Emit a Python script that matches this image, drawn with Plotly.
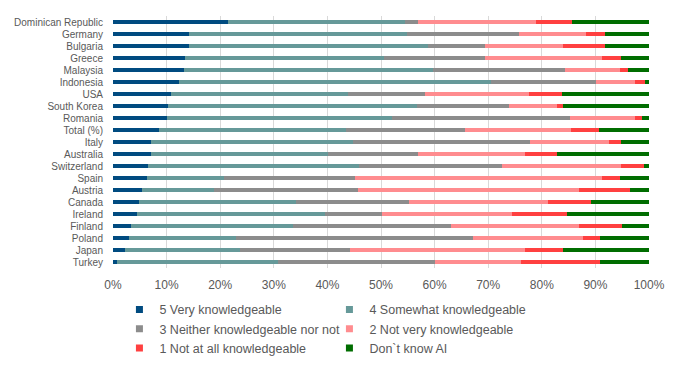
import plotly.graph_objects as go

categories = ["Dominican Republic", "Germany", "Bulgaria", "Greece", "Malaysia", "Indonesia",
              "USA", "South Korea", "Romania", "Total (%)", "Italy", "Australia", "Switzerland",
              "Spain", "Austria", "Canada", "Ireland", "Finland", "Poland", "Japan", "Turkey"]

very = [21.5, 14.1, 14.1, 13.4, 13.3, 12.3, 10.8, 10.3, 10.1, 8.6, 7.1, 7.1, 6.5, 6.3, 5.4, 4.9, 4.5, 3.4, 3.0, 2.2, 0.7]
somewhat = [33.0, 40.7, 44.7, 37.1, 46.4, 58.3, 33.1, 46.5, 41.9, 34.9, 37.7, 33.1, 39.4, 14.5, 13.5, 29.3, 35.1, 30.1, 20.0, 21.5, 30.0]
neither = [2.4, 21.0, 10.6, 18.9, 24.7, 19.6, 14.3, 17.1, 33.3, 22.2, 33.0, 16.7, 26.7, 24.4, 26.8, 21.1, 10.6, 29.6, 44.2, 20.5, 29.4]
not_very = [22.1, 12.5, 14.6, 21.9, 10.1, 7.1, 19.5, 9.0, 12.1, 19.8, 14.8, 20.0, 22.2, 46.1, 41.3, 25.9, 24.3, 23.9, 20.5, 32.7, 16.1]
not_at_all = [6.7, 3.5, 7.8, 3.5, 1.6, 2.0, 6.1, 1.1, 1.2, 5.2, 2.2, 6.0, 4.3, 3.3, 9.5, 8.0, 10.2, 8.0, 3.2, 7.1, 14.7]
dont_know = [14.3, 8.2, 8.2, 5.2, 3.9, 0.7, 16.2, 16.0, 1.4, 9.3, 5.2, 17.1, 0.9, 5.4, 3.5, 10.8, 15.3, 5.0, 9.1, 16.0, 9.1]

series = [
    ("5 Very knowledgeable", very, "#004B80"),
    ("4 Somewhat knowledgeable", somewhat, "#669999"),
    ("3 Neither knowledgeable nor not", neither, "#8C8C8C"),
    ("2 Not very knowledgeable", not_very, "#FF8C8F"),
    ("1 Not at all knowledgeable", not_at_all, "#FF4040"),
    ("Don`t know AI", dont_know, "#006D00"),
]

fig = go.Figure()
for name, vals, color in series:
    fig.add_trace(go.Bar(
        y=categories, x=[v / 100 for v in vals], name=name, orientation="h",
        marker=dict(color=color, line=dict(width=0)),
        legendgroup=name, showlegend=False,
    ))
# legend entries with small square markers (like the reference)
for name, vals, color in series:
    fig.add_trace(go.Scatter(
        x=[None], y=[None], mode="markers", name=name, legendgroup=name,
        marker=dict(symbol="square", size=7, color=color), showlegend=True,
    ))

# the page body adds an 8px offset, so margins are shifted to compensate
fig.update_layout(
    barmode="stack", bargap=0.6,
    width=694, height=372,
    margin=dict(l=105, r=53, t=8, b=112),
    plot_bgcolor="white", paper_bgcolor="white",
    font=dict(family="Liberation Sans, Arial, sans-serif", color="#595959", size=11),
    xaxis=dict(range=[0, 1], tickformat=".0%", dtick=0.1, showgrid=True,
               gridcolor="#D9D9D9", gridwidth=1, zeroline=False, showline=False,
               tickfont=dict(size=12), ticks="", automargin=False, ticklabelstandoff=8),
    yaxis=dict(autorange="reversed", showgrid=False, showline=False, ticks="",
               tickmode="array", tickvals=categories, ticktext=categories,
               tickfont=dict(size=10), ticklabelstandoff=9, automargin=False),
    legend=dict(orientation="h", x=0.012, xanchor="left", y=-0.107, yanchor="top",
                entrywidth=165, entrywidthmode="pixels", traceorder="normal",
                font=dict(size=12.5, color="#595959"), itemwidth=30,
                bgcolor="rgba(0,0,0,0)"),
    showlegend=True,
)

fig.write_html("out.html")
